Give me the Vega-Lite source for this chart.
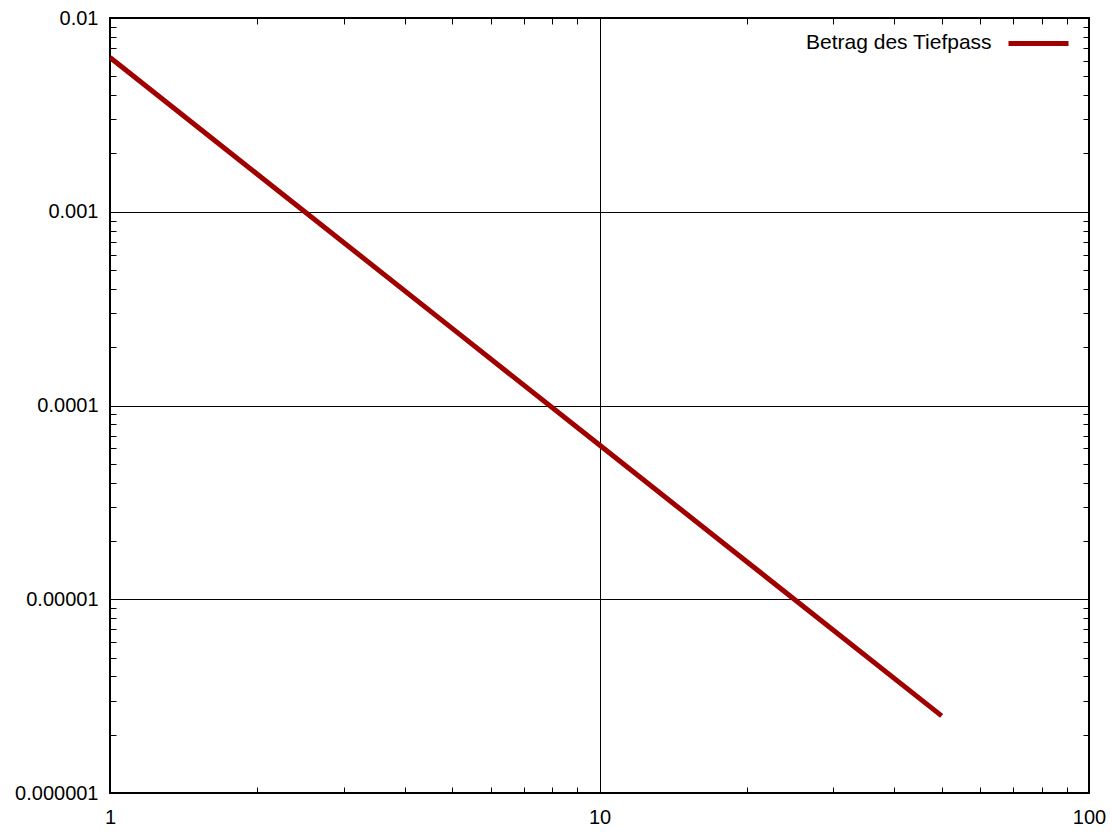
{
  "$schema": "https://vega.github.io/schema/vega-lite/v6.json",
  "width": 979,
  "height": 775,
  "autosize": {"type": "none"},
  "padding": {"left": 110, "top": 18, "right": 23, "bottom": 41},
  "background": "white",
  "config": {
    "view": {"stroke": "black", "strokeWidth": 2},
    "axis": {
      "domain": false,
      "labelFont": "Liberation Sans",
      "labelFontSize": 20,
      "labelColor": "black",
      "labelFlush": false,
      "labelOverlap": false,
      "tickColor": "black",
      "tickWidth": 1,
      "gridColor": "black",
      "gridOpacity": 1,
      "gridWidth": 1,
      "title": null
    }
  },
  "data": {
    "values": [
      {"f": 1, "m": 0.00625},
      {"f": 2, "m": 0.0015625},
      {"f": 5, "m": 0.00025},
      {"f": 10, "m": 0.0000625},
      {"f": 20, "m": 0.000015625},
      {"f": 50, "m": 0.0000025}
    ]
  },
  "resolve": {"axis": {"x": "independent", "y": "independent"}},
  "layer": [
    {
      "mark": {"type": "line", "strokeWidth": 5, "clip": true},
      "encoding": {
        "x": {"field": "f", "type": "quantitative",
          "scale": {"type": "log", "domain": [1, 100]},
          "axis": {"orient": "bottom", "values": [1, 10, 100], "format": "~g", "grid": true, "tickSize": -12, "labelPadding": 26}},
        "y": {"field": "m", "type": "quantitative",
          "scale": {"type": "log", "domain": [0.000001, 0.01]},
          "axis": {"orient": "left", "values": [0.000001, 0.00001, 0.0001, 0.001, 0.01], "format": ".6~f", "grid": true, "tickSize": -12, "labelPadding": 24}},
        "color": {"datum": "Betrag des Tiefpass", "type": "nominal",
          "scale": {"range": ["#a00000"]},
          "legend": {"title": "Betrag des Tiefpass", "titleOrient": "left", "titleAnchor": "middle", "titleFont": "Liberation Sans", "titleFontSize": 21, "titleFontWeight": "normal", "titleColor": "black", "titlePadding": 14, "titleBaseline": "top", "titleLimit": 500,
            "labelExpr": "''", "labelOffset": 0, "symbolType": "stroke", "symbolStrokeWidth": 5, "symbolSize": 3600,
            "orient": "none", "legendX": 696, "legendY": -7, "padding": 0}}
      }
    },
    {
      "mark": {"type": "point", "opacity": 0},
      "encoding": {
        "x": {"field": "f", "type": "quantitative",
          "axis": {"orient": "bottom", "values": [2,3,4,5,6,7,8,9,20,30,40,50,60,70,80,90], "labels": false, "grid": false, "tickSize": -6}},
        "y": {"field": "m", "type": "quantitative",
          "axis": {"orient": "left", "values": [0.000002,0.000003,0.000004,0.000005,0.000006,0.000007,0.000008,0.000009,0.00002,0.00003,0.00004,0.00005,0.00006,0.00007,0.00008,0.00009,0.0002,0.0003,0.0004,0.0005,0.0006,0.0007,0.0008,0.0009,0.002,0.003,0.004,0.005,0.006,0.007,0.008,0.009], "labels": false, "grid": false, "tickSize": -6}}
      }
    },
    {
      "mark": {"type": "point", "opacity": 0},
      "encoding": {
        "x": {"field": "f", "type": "quantitative",
          "axis": {"orient": "top", "values": [1, 10, 100], "labels": false, "grid": false, "tickSize": -12}},
        "y": {"field": "m", "type": "quantitative",
          "axis": {"orient": "right", "values": [0.000001, 0.00001, 0.0001, 0.001, 0.01], "labels": false, "grid": false, "tickSize": -12}}
      }
    },
    {
      "mark": {"type": "point", "opacity": 0},
      "encoding": {
        "x": {"field": "f", "type": "quantitative",
          "axis": {"orient": "top", "values": [2,3,4,5,6,7,8,9,20,30,40,50,60,70,80,90], "labels": false, "grid": false, "tickSize": -6}},
        "y": {"field": "m", "type": "quantitative",
          "axis": {"orient": "right", "values": [0.000002,0.000003,0.000004,0.000005,0.000006,0.000007,0.000008,0.000009,0.00002,0.00003,0.00004,0.00005,0.00006,0.00007,0.00008,0.00009,0.0002,0.0003,0.0004,0.0005,0.0006,0.0007,0.0008,0.0009,0.002,0.003,0.004,0.005,0.006,0.007,0.008,0.009], "labels": false, "grid": false, "tickSize": -6}}
      }
    }
  ]
}
